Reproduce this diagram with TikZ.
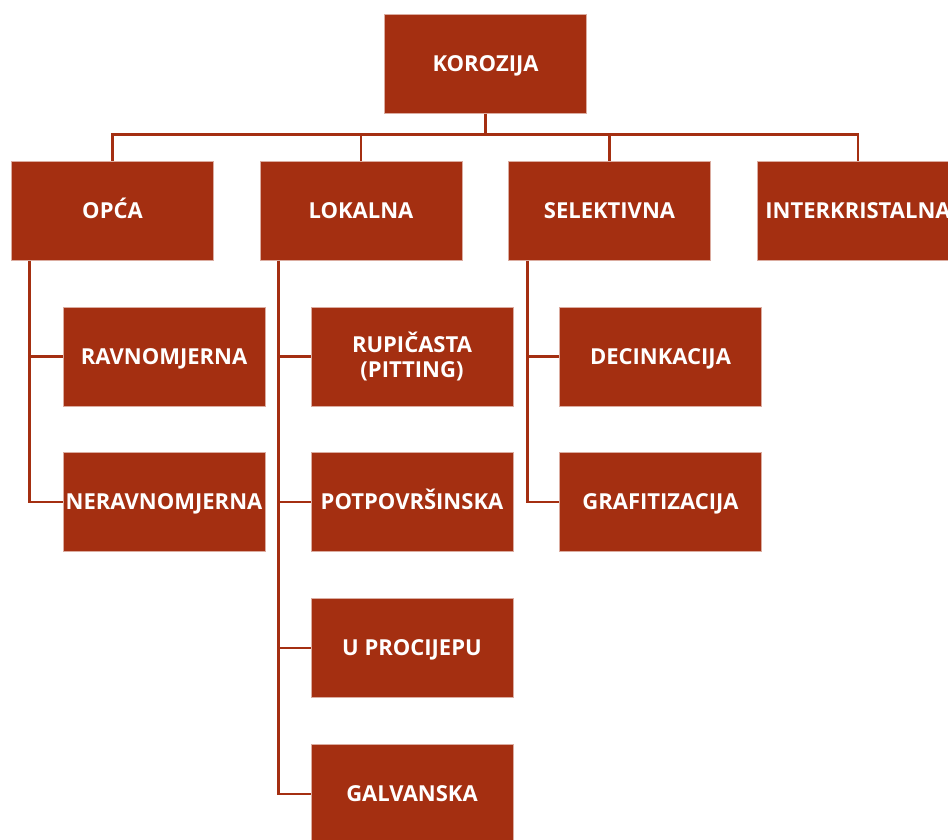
\documentclass[tikz,border=0pt]{standalone}
\usepackage{fontspec}
\newfontfamily\boxfont{Open Sans}
\definecolor{rust}{RGB}{164,47,17}
\tikzset{
  box/.style={fill=rust, draw=rust!40, line width=0.5pt, text=white, minimum width=202pt, minimum height=99pt, inner sep=0pt, align=center,
    font=\boxfont\bfseries\fontsize{22}{25}\selectfont},
  onebox/.style={box, text height=15.6pt, text depth=0pt},
  link/.style={draw=rust, line width=2.6pt}
}
\begin{document}
\begin{tikzpicture}[x=1pt,y=1pt]
\useasboundingbox (0,0) rectangle (948,-839);
\clip (0,0) rectangle (948,-839);
\node[onebox] (kor) at (485.5,-64) {KOROZIJA};
\node[onebox] (opca) at (112.5,-211) {OPĆA};
\node[onebox] (lok) at (361,-211) {LOKALNA};
\node[onebox] (sel) at (609.5,-211) {SELEKTIVNA};
\node[onebox] (inter) at (858,-211) {INTERKRISTALNA};
\node[onebox] (rav) at (164,-356.5) {RAVNOMJERNA};
\node[onebox] (nerav) at (164,-502) {NERAVNOMJERNA};
\node[box] (rup) at (412,-356.5) {RUPIČASTA\\(PITTING)};
\node[onebox] (potp) at (412,-502) {POTPOVRŠINSKA};
\node[onebox] (proc) at (412,-648) {U PROCIJEPU};
\node[onebox] (galv) at (412,-794) {GALVANSKA};
\node[onebox] (dec) at (660.5,-356.5) {DECINKACIJA};
\node[onebox] (graf) at (660.5,-502) {GRAFITIZACIJA};
\coordinate (bus) at ([yshift=-21pt]kor.south);
\foreach \n in {opca,lok,sel,inter}{
  \draw[link] (kor.south) -- (bus) -| (\n.north);
}
\draw[link] ([xshift=18pt]opca.south west) |- (nerav.west);
\draw[link] ([xshift=18pt]opca.south west) |- (rav.west);
\draw[link] ([xshift=19pt]lok.south west) |- (galv.west);
\foreach \n in {rup,potp,proc}{
  \draw[link] ([xshift=19pt]lok.south west) |- (\n.west);
}
\draw[link] ([xshift=19pt]sel.south west) |- (graf.west);
\draw[link] ([xshift=19pt]sel.south west) |- (dec.west);
\end{tikzpicture}
\end{document}
